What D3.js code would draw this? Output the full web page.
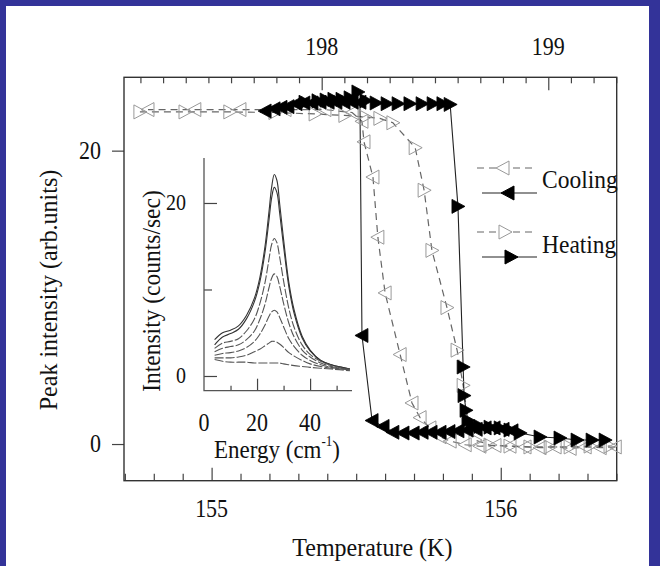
<!DOCTYPE html>
<html lang="en">
<head>
	<meta charset="UTF-8">
	<title>Peak intensity vs temperature</title>
	<style>
		body { margin: 0; }
		.f-svg { display: block; background-color: #333399; }
		.f-text {
			font-family: "Liberation Serif", "Times New Roman", serif;
			fill: #111;
		}
		.Axis path { display: none; }
		.Axis line { stroke: #444; stroke-width: 1.2; }
	</style>
	<script src="https://d3js.org/d3.v7.min.js"></script>
</head>
<body>
	<script type="text/javascript">

		// ---- data ----
		// filled left triangles, cooling (T in K, peak intensity)
		var coolT = [156.039, 156.008, 155.977, 155.946, 155.915, 155.883, 155.852, 155.821, 155.790, 155.759,
		             155.728, 155.697, 155.662, 155.627, 155.593, 155.555, 155.520, 155.513, 155.486, 155.458,
		             155.430, 155.403, 155.375, 155.347, 155.319, 155.292, 155.264, 155.240, 155.216, 155.185];
		var coolI = [0.9, 1.0, 1.1, 1.1, 1.0, 0.95, 0.9, 0.85, 0.8, 0.8,
		             0.8, 0.75, 0.75, 0.8, 1.2, 1.6, 7.4, 23.3, 23.3, 23.3,
		             23.3, 23.3, 23.3, 23.25, 23.25, 23.2, 23.0, 22.95, 22.85, 22.7];
		// filled right triangles, heating
		var heatT = [155.323, 155.368, 155.396, 155.423, 155.451, 155.479, 155.506, 155.534, 155.569, 155.607,
		             155.645, 155.686, 155.728, 155.766, 155.800, 155.825, 155.852, 155.870, 155.873, 155.880,
		             155.887, 155.901, 155.928, 155.963, 155.998, 156.032, 156.067, 156.136, 156.205, 156.264,
		             156.316, 156.361];
		var heatI = [23.3, 23.4, 23.45, 23.5, 23.5, 23.6, 24.0, 23.4, 23.25, 23.2,
		             23.2, 23.2, 23.2, 23.2, 23.2, 23.15, 16.2, 5.25, 3.3, 2.3,
		             1.6, 1.3, 1.2, 1.15, 1.1, 0.95, 0.75, 0.48, 0.41, 0.27,
		             0.27, 0.27];
		// open left triangles (dashed), second cooling run
		var cool2T = [156.396, 156.344, 156.292, 156.240, 156.188, 156.136, 156.084, 156.032, 155.980, 155.928,
		              155.877, 155.825, 155.790, 155.755, 155.721, 155.693, 155.652, 155.600, 155.575, 155.558,
		              155.527, 155.520, 155.486, 155.392, 155.254, 155.098, 154.942, 154.780];
		var cool2I = [-0.2, -0.25, -0.2, -0.3, -0.2, -0.25, -0.2, -0.15, -0.1, -0.15,
		              -0.05, 0.2, 0.5, 1.1, 1.8, 2.8, 6.1, 10.3, 14.1, 18.2,
		              20.6, 22.0, 22.6, 22.8, 22.8, 22.8, 22.8, 22.8];
		// open right triangles (dashed), second heating run
		var heat2T = [154.752, 154.908, 155.063, 155.219, 155.358, 155.461, 155.531, 155.582, 155.627, 155.704,
		              155.735, 155.762, 155.814, 155.849, 155.870, 155.887, 155.911, 155.963, 156.032, 156.101,
		              156.171, 156.240, 156.309, 156.378];
		var heat2I = [22.64, 22.64, 22.64, 22.6, 22.5, 22.4, 22.3, 22.2, 21.9, 20.2,
		              17.3, 13.2, 9.3, 6.4, 4.0, 1.6, 0.27, -0.07, -0.14, -0.2,
		              -0.2, -0.2, -0.14, -0.14];

		// inset spectra: energy (cm-1) and intensity (counts/sec), one array per temperature
		var energy = [4, 7, 10, 13, 16, 19, 21, 23, 24.5, 25.5, 26.5, 27.5, 28.5, 30, 32, 34, 37, 40, 44, 48, 52, 55];
		var spec1 = [4.2, 5.0, 5.3, 5.8, 7.0, 9.0, 11.3, 15.0, 19.0, 21.8, 23.3, 22.6, 20.0, 15.8, 10.8, 7.6, 4.6, 3.0, 1.8, 1.3, 1.0, 0.8];
		var spec2 = [3.6, 4.5, 4.9, 5.4, 6.6, 8.6, 10.8, 14.3, 18.0, 20.6, 21.8, 21.2, 18.9, 15.0, 10.3, 7.2, 4.4, 2.9, 1.8, 1.3, 1.0, 0.8];
		var spec3 = [3.2, 3.8, 4.0, 4.3, 5.2, 6.6, 8.3, 10.8, 13.5, 15.2, 15.9, 15.4, 13.8, 11.0, 7.8, 5.6, 3.6, 2.5, 1.7, 1.2, 0.9, 0.8];
		var spec4 = [2.8, 3.2, 3.4, 3.6, 4.2, 5.2, 6.5, 8.3, 10.2, 11.3, 11.8, 11.5, 10.4, 8.4, 6.1, 4.5, 3.0, 2.2, 1.5, 1.1, 0.9, 0.7];
		var spec5 = [2.4, 2.6, 2.7, 2.9, 3.3, 4.0, 4.8, 5.9, 6.9, 7.4, 7.6, 7.4, 6.8, 5.7, 4.3, 3.4, 2.4, 1.8, 1.3, 1.0, 0.8, 0.7];
		var spec6 = [2.1, 2.1, 2.1, 2.2, 2.4, 2.8, 3.1, 3.5, 3.8, 4.0, 4.0, 3.9, 3.7, 3.3, 2.7, 2.3, 1.8, 1.4, 1.1, 0.9, 0.8, 0.7];
		var spec7 = [1.9, 1.7, 1.6, 1.6, 1.6, 1.5, 1.5, 1.5, 1.5, 1.5, 1.5, 1.5, 1.5, 1.4, 1.3, 1.2, 1.1, 1.0, 0.9, 0.8, 0.7, 0.6];

		// tick labels
		var bottomLabels = [155, 156];
		var topLabels = [198, 199];
		var leftLabels = [0, 20];
		var insetXLabels = [0, 20, 40];
		var insetYLabels = [0, 20];
		var legendNames = ["Cooling", "Heating"];

		const w = 660,
			  h = 566;
		const L = 124, R = 616.7, T = 77.3, B = 480.7;

		const svg = d3.select("body")
			.append("svg")
			.attr("width", w)
			.attr("height", h)
			.attr("class", "f-svg");

		// white page inside the blue border
		svg.append("rect").attr("x", 6).attr("y", 6).attr("width", 643).attr("height", h - 6).attr("fill", "#fff");

		var xScale = d3.scaleLinear().domain([154.697, 156.401]).range([L, R]);
		var xTopScale = d3.scaleLinear().domain([197.1275, 199.302]).range([L, R]);
		var yScale = d3.scaleLinear().domain([-2.5, 25]).range([B, T]);

		var tenths = (a, b) => d3.range(Math.round(a * 10), Math.round(b * 10) + 1).map(d => d / 10);
		var isMajor = d => Math.abs(d - Math.round(d)) < 1e-6;

		// bottom axis, ticks inward
		var xAxis = d3.axisBottom(xScale).tickValues(tenths(154.7, 156.4)).tickFormat("").tickSizeOuter(0);
		svg.append("g").attr("class", "Axis x").attr("transform", "translate(0," + B + ")").call(xAxis)
			.selectAll(".tick line").attr("y2", d => isMajor(d) ? -13 : -7);

		// top axis, ticks inward
		var xTopAxis = d3.axisTop(xTopScale).tickValues(tenths(197.2, 199.3)).tickFormat("").tickSizeOuter(0);
		svg.append("g").attr("class", "Axis xt").attr("transform", "translate(0," + T + ")").call(xTopAxis)
			.selectAll(".tick line").attr("y2", d => isMajor(d) ? 13 : 6);

		// left axis, ticks outward
		var yAxis = d3.axisLeft(yScale).tickValues(leftLabels).tickFormat("").tickSize(12).tickSizeOuter(0);
		svg.append("g").attr("class", "Axis y").attr("transform", "translate(" + L + ",0)").call(yAxis);

		// frame
		svg.append("rect").attr("x", L).attr("y", T).attr("width", R - L).attr("height", B - T)
			.attr("fill", "none").attr("stroke", "#333").attr("stroke-width", 1.4);

		// scanned lettering is a little taller than wide
		function text(x, y, s, size, anchor, rot, sy) {
			return svg.append("text").attr("class", "f-text")
				.attr("transform", "translate(" + x + "," + y + ")" + (rot ? " rotate(" + rot + ")" : "") + " scale(1," + (sy || 1.12) + ")")
				.attr("font-size", size).attr("text-anchor", anchor || "middle").text(s);
		}

		bottomLabels.forEach(d => text(xScale(d), 517, d, 22));
		topLabels.forEach(d => text(xTopScale(d), 55, d, 22));
		leftLabels.forEach(d => text(101, yScale(d) + 8, d, 22, "end"));
		text((L + R) / 2 + 2, 556, "Temperature (K)", 24, "middle", 0, 1.06);
		text(57, 290, "Peak intensity (arb.units)", 24, "middle", -90, 1.06);

		// ---- main series ----
		var triL = "M-7,0L6,-7L6,7Z",
			triR = "M7,0L-6,-7L-6,7Z";
		var line = d3.line().x(d => xScale(d[0])).y(d => yScale(d[1]));
		var zip = (a, b) => a.map((d, i) => [d, b[i]]);

		var series = [
			{ data: zip(cool2T, cool2I), shape: triL, open: true },
			{ data: zip(heat2T, heat2I), shape: triR, open: true },
			{ data: zip(coolT, coolI), shape: triL, open: false },
			{ data: zip(heatT, heatI), shape: triR, open: false }
		];

		series.forEach(s => {
			svg.append("path").datum(s.data).attr("d", line)
				.attr("fill", "none")
				.attr("stroke", s.open ? "#666" : "#222")
				.attr("stroke-width", s.open ? 1.2 : 1.1)
				.attr("stroke-dasharray", s.open ? "7,5" : null);
		});
		series.forEach(s => {
			svg.append("g").selectAll("path")
				.data(s.data).enter()
				.append("path")
				.attr("d", s.shape)
				.attr("transform", d => "translate(" + xScale(d[0]) + "," + yScale(d[1]) + ")")
				.attr("fill", s.open ? "none" : "#000")
				.attr("stroke", s.open ? "#999" : "#000")
				.attr("stroke-width", s.open ? 1 : 0.8);
		});

		// ---- legend ----
		var leg = [
			{ y: 168, x0: 477, x1: 532, mx: 503, shape: triL, open: true },
			{ y: 193, x0: 482, x1: 537, mx: 508, shape: triL, open: false },
			{ y: 232, x0: 477, x1: 532, mx: 505, shape: triR, open: true },
			{ y: 257, x0: 482, x1: 537, mx: 511, shape: triR, open: false }
		];
		leg.forEach(d => {
			svg.append("line").attr("x1", d.x0).attr("x2", d.x1).attr("y1", d.y).attr("y2", d.y)
				.attr("stroke", d.open ? "#666" : "#222").attr("stroke-width", 1.2)
				.attr("stroke-dasharray", d.open ? "7,5" : null);
			svg.append("path").attr("d", d.shape).attr("transform", "translate(" + d.mx + "," + d.y + ")")
				.attr("fill", d.open ? "#fff" : "#000").attr("stroke", d.open ? "#999" : "#000");
		});
		text(542, 188, legendNames[0], 23.5, "start", 0, 1.06);
		text(542, 253, legendNames[1], 23.5, "start", 0, 1.06);

		// ---- inset ----
		var ix = d3.scaleLinear().domain([0, 55.8]).range([204, 352]);
		var iy = d3.scaleLinear().domain([-1.7, 25.2]).range([390.7, 158]);

		var ixAxis = d3.axisBottom(ix).tickValues([10, 20, 30, 40, 50]).tickFormat("").tickSizeOuter(0);
		svg.append("g").attr("class", "Axis ix").attr("transform", "translate(0,390.7)").call(ixAxis)
			.selectAll(".tick line").attr("y2", d => d % 20 === 0 ? -12 : -5);
		var iyAxis = d3.axisLeft(iy).tickValues([0, 10, 20]).tickFormat("").tickSizeOuter(0);
		svg.append("g").attr("class", "Axis iy").attr("transform", "translate(204,0)").call(iyAxis)
			.selectAll(".tick line").attr("x2", d => d % 20 === 0 ? 13 : 8);
		svg.append("path").attr("d", "M204,158V390.7H352")
			.attr("fill", "none").attr("stroke", "#555").attr("stroke-width", 1.3);

		var spectra = [spec1, spec2, spec3, spec4, spec5, spec6, spec7];
		var sline = d3.line().curve(d3.curveCatmullRom).x(d => ix(d[0])).y(d => iy(d[1]));
		svg.append("g").selectAll("path")
			.data(spectra).enter()
			.append("path")
			.attr("d", d => sline(zip(energy, d)))
			.attr("fill", "none")
			.attr("stroke", (d, i) => i < 2 ? "#333" : "#555")
			.attr("stroke-width", 1.1)
			.attr("stroke-dasharray", (d, i) => i < 2 ? null : "9,2");

		insetXLabels.forEach(d => text(ix(d), 431, d, 22));
		insetYLabels.forEach(d => text(186, iy(d) + 7, d, 20, "end"));

		var el = text(277, 458, "Energy (cm", 23, "middle", 0, 1.06);
		el.append("tspan").attr("font-size", 13).attr("dy", -11).text("-1");
		el.append("tspan").attr("dy", 11).text(")");
		text(160, 291, "Intensity (counts/sec)", 23.5, "middle", -90, 1.04);

	</script>
</body>
</html>
